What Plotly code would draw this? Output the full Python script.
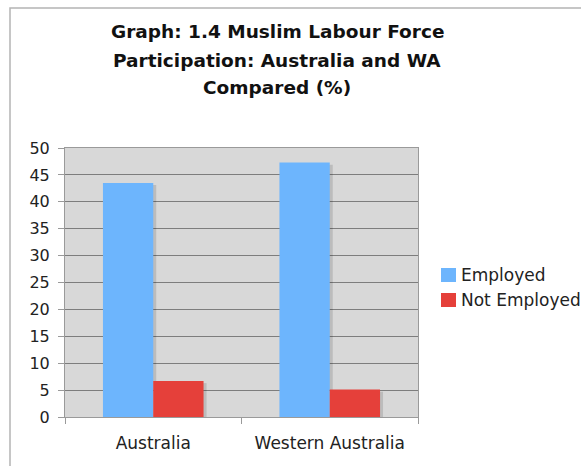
import plotly.graph_objects as go

# Labour force participation of Muslims (%)
regions = ["Australia", "Western Australia"]
employed = [43.5, 47.3]
not_employed = [6.7, 5.1]
y_ticks = [0, 5, 10, 15, 20, 25, 30, 35, 40, 45, 50]
series_names = ["Employed", "Not Employed"]
series_colors = ["#6db5fd", "#e5403a"]
title_lines = ["Graph: 1.4 Muslim Labour Force",
               "Participation: Australia and WA",
               "Compared (%)"]

FONT = "DejaVu Sans, Verdana, sans-serif"
W, H = 581, 466
ML, MR, MT, MB = 65, 163, 148, 49
PW, PH = W - ML - MR, H - MT - MB
BARGAP = 0.43


def px_x(px):
    return (px - ML) / PW


def px_y(py):
    return (H - MB - py) / PH


fig = go.Figure()
series_vals = [employed, not_employed]
for name, vals, col in zip(series_names, series_vals, series_colors):
    fig.add_trace(go.Bar(name=name, x=regions, y=vals,
                         marker=dict(color=col, line=dict(width=0))))

# Soft drop shadow on the right side of each bar, drawn beneath the bars
bar_w = (1 - BARGAP) / len(series_vals)
shadow_w = 3 * len(regions) / PW
for s, vals in enumerate(series_vals):
    for i, v in enumerate(vals):
        right = i - (1 - BARGAP) / 2 + bar_w * (s + 1)
        fig.add_shape(type="rect", xref="x", yref="y", layer="between",
                      x0=right - 0.01, x1=right + shadow_w, y0=0, y1=v - 0.4,
                      fillcolor="rgba(0,0,0,0.13)", line=dict(width=0))

fig.update_layout(
    width=W, height=H,
    margin=dict(l=ML, r=MR, t=MT, b=MB),
    paper_bgcolor="white",
    plot_bgcolor="#d8d8d8",
    barmode="group",
    bargap=BARGAP,
    bargroupgap=0,
    font=dict(family=FONT, size=16, color="#222222"),
    showlegend=False,
)

fig.update_yaxes(
    range=[0, 50], tickvals=y_ticks,
    showgrid=True, gridcolor="#7d7d7d", gridwidth=1,
    showline=True, linecolor="#9a9a9a", linewidth=1, mirror=True,
    ticks="outside", ticklen=6, tickcolor="#9a9a9a",
    ticklabelstandoff=5,
    zeroline=False,
    tickfont=dict(family=FONT, size=16, color="#222222"),
)
fig.update_xaxes(
    range=[-0.5, len(regions) - 0.5],
    showline=True, linecolor="#9a9a9a", linewidth=1, mirror=True,
    ticks="outside", ticklen=6, tickcolor="#9a9a9a",
    tickson="boundaries",
    ticklabelstandoff=11,
    tickfont=dict(family=FONT, size=17, color="#222222"),
)

# Title, one annotation per line
for text, cy in zip(title_lines, [31, 60, 88]):
    fig.add_annotation(text=text, xref="paper", yref="paper",
                       x=px_x(277), y=px_y(cy), xanchor="center", yanchor="middle",
                       showarrow=False,
                       font=dict(family=FONT, size=18.5, color="#111111", weight="bold"))

# Legend: colour swatch plus label for each series
for i, (name, col) in enumerate(zip(series_names, series_colors)):
    cy = 275 + 25 * i
    fig.add_shape(type="rect", xref="paper", yref="paper",
                  x0=px_x(441), x1=px_x(456), y0=px_y(cy - 7), y1=px_y(cy + 7),
                  fillcolor=col, line=dict(width=0))
    fig.add_annotation(text=name, xref="paper", yref="paper",
                       x=px_x(459), y=px_y(cy), xanchor="left", yanchor="middle",
                       showarrow=False,
                       font=dict(family=FONT, size=17, color="#222222"))

# Frame around the whole chart
fig.add_shape(type="rect", xref="paper", yref="paper",
              x0=px_x(10), x1=px_x(640), y0=px_y(520), y1=px_y(8),
              line=dict(color="#b4b4b4", width=1.5), layer="below")

fig.write_html("out.html")
